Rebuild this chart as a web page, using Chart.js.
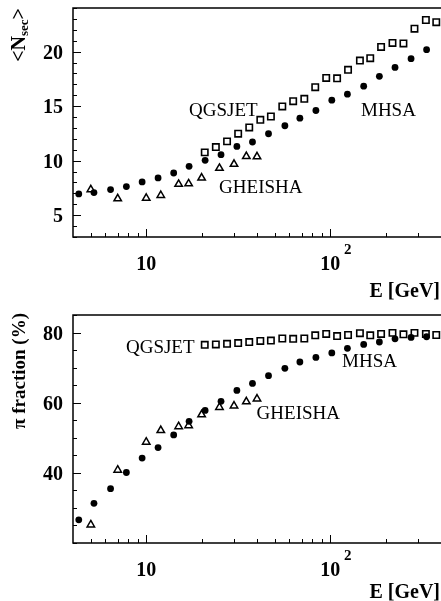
<!DOCTYPE html>
<html>
<head>
<meta charset="utf-8">
<script src="https://cdn.jsdelivr.net/npm/chart.js@4.4.1/dist/chart.umd.min.js"></script>
<style>
  html, body { margin: 0; padding: 0; background: #fff; overflow: hidden; }
  canvas { display: block; }
</style>
</head>
<body>
<canvas id="nsecChart" width="441" height="300"></canvas>
<canvas id="pionChart" width="441" height="301"></canvas>
<script>
// ========= Data =========
// MHSA (filled circles)
const mhsaE    = [4.3, 5.2, 6.4, 7.8, 9.5, 11.6, 14.1, 17.1, 20.9, 25.5, 31.1, 37.8, 46.2, 56.7, 68.4, 83.6, 102, 124, 152, 185, 225, 275, 334];
const mhsaNsec = [6.95, 7.07, 7.35, 7.62, 8.05, 8.42, 8.87, 9.48, 10.03, 10.55, 11.31, 11.71, 12.47, 13.2, 13.9, 14.6, 15.55, 16.1, 16.83, 17.73, 18.55, 19.35, 20.18];
const mhsaPion = [26.6, 31.3, 35.5, 40.1, 44.2, 47.2, 50.8, 54.7, 57.8, 60.4, 63.5, 65.5, 67.7, 69.8, 71.6, 72.9, 74.2, 75.5, 76.6, 77.3, 78.2, 78.6, 78.8];

// QGSJET (open squares)
const qgsE    = [20.8, 23.9, 27.5, 31.6, 36.3, 41.7, 47.6, 54.9, 62.9, 72.3, 82.9, 95.1, 109, 125, 145, 165, 189, 218, 250, 287, 331, 377];
const qgsNsec = [10.76, 11.25, 11.77, 12.47, 13.05, 13.75, 14.05, 14.97, 15.45, 15.67, 16.74, 17.59, 17.55, 18.33, 19.18, 19.4, 20.43, 20.8, 20.75, 22.1, 22.9, 22.7];
const qgsPion = [76.5, 76.6, 76.8, 77.0, 77.3, 77.6, 77.7, 78.3, 78.2, 78.3, 79.2, 79.6, 79.0, 79.3, 79.8, 79.2, 79.6, 79.9, 79.5, 79.9, 79.6, 79.3];

// GHEISHA (open triangles)
const gheE    = [5, 7, 10, 12, 15, 17, 20, 25, 30, 35, 40];
const gheNsec = [7.35, 6.52, 6.57, 6.82, 7.84, 7.89, 8.42, 9.31, 9.68, 10.39, 10.37];
const ghePion = [25.2, 40.8, 48.8, 52.1, 53.2, 53.5, 56.6, 58.7, 59.1, 60.3, 61.1];

// axis ticks
const xTicks = [5, 6, 7, 8, 9, 10, 20, 30, 40, 50, 60, 70, 80, 90, 100, 200, 300];
const xMajor = [10, 100];
const nsecTickLabels = [5, 10, 15, 20];
const pionTickLabels = [40, 60, 80];

const SERIF = "'Liberation Serif', 'Times New Roman', serif";

function points(xs, ys) {
  return xs.map((x, i) => ({ x, y: ys[i] }));
}

function seriesSets(kind) {
  const top = kind === "nsec";
  return [
    {
      label: "MHSA",
      data: points(mhsaE, top ? mhsaNsec : mhsaPion),
      pointStyle: "circle",
      pointRadius: 3.4,
      backgroundColor: "#000",
      borderColor: "#000",
      borderWidth: 0
    },
    {
      label: "QGSJET",
      data: points(qgsE, top ? qgsNsec : qgsPion),
      pointStyle: "rect",
      pointRadius: 4.5,
      backgroundColor: "rgba(0,0,0,0)",
      borderColor: "#000",
      borderWidth: 1.6
    },
    {
      label: "GHEISHA",
      data: points(gheE, top ? gheNsec : ghePion),
      pointStyle: "triangle",
      pointRadius: 4.3,
      backgroundColor: "rgba(0,0,0,0)",
      borderColor: "#000",
      borderWidth: 1.5
    }
  ];
}

/* ========= Frame, inward ticks, axis texts ========= */
const framePlugin = {
  id: "frame",
  afterDraw(chart, args, opts) {
    const { ctx, chartArea: a, scales } = chart;
    const xs = scales.x, ys = scales.y;
    ctx.save();
    ctx.strokeStyle = "#000";
    ctx.fillStyle = "#000";

    // box (right edge runs off the canvas)
    ctx.lineWidth = 1.5;
    ctx.beginPath();
    ctx.moveTo(a.right + 2, a.top);
    ctx.lineTo(a.left, a.top);
    ctx.lineTo(a.left, a.bottom);
    ctx.lineTo(a.right + 2, a.bottom);
    ctx.stroke();

    // y ticks, pointing into the plot, with labels on the majors
    ctx.lineWidth = 1;
    ctx.textBaseline = "middle";
    ctx.textAlign = "right";
    ctx.font = `bold 20px ${SERIF}`;
    ys.ticks.forEach(t => {
      const py = Math.round(ys.getPixelForValue(t.value)) + 0.5;
      const major = opts.yMajor.includes(t.value);
      ctx.beginPath();
      ctx.moveTo(a.left, py);
      ctx.lineTo(a.left + (major ? 8 : 4), py);
      ctx.stroke();
      if (major) ctx.fillText(String(t.value), a.left - 10, py + 1);
    });

    // x ticks
    xTicks.forEach(v => {
      const px = Math.round(xs.getPixelForValue(v)) + 0.5;
      const len = xMajor.includes(v) ? 8 : 4;
      ctx.beginPath();
      ctx.moveTo(px, a.bottom);
      ctx.lineTo(px, a.bottom - len);
      ctx.stroke();
    });

    // x tick labels: 10 and 10^2
    ctx.textAlign = "center";
    xMajor.forEach((v, i) => {
      const px = xs.getPixelForValue(v);
      ctx.font = `bold 20px ${SERIF}`;
      ctx.fillText("10", px, a.bottom + 28);
      if (i > 0) {
        ctx.font = `bold 15px ${SERIF}`;
        ctx.fillText(String(Math.log10(v)), px + 17.5, a.bottom + 13);
      }
    });

    // x title
    ctx.font = `bold 20px ${SERIF}`;
    ctx.textAlign = "right";
    ctx.fillText("E [GeV]", chart.width - 1, chart.height - 8);

    // y title, rotated and aligned to the top of the frame
    ctx.save();
    ctx.translate(20, opts.titleTop);
    ctx.rotate(-Math.PI / 2);
    ctx.textAlign = "left";
    let w = 0;
    opts.yTitle.forEach(s => { ctx.font = s.font; w += ctx.measureText(s.text).width; });
    let cx = -w;
    opts.yTitle.forEach(s => {
      ctx.font = s.font;
      ctx.fillText(s.text, cx, s.dy || 0);
      cx += ctx.measureText(s.text).width;
    });
    ctx.restore();

    // model labels, placed in data coordinates
    ctx.font = `19px ${SERIF}`;
    ctx.textAlign = "left";
    opts.notes.forEach(n => {
      ctx.fillText(n.text, xs.getPixelForValue(n.x), ys.getPixelForValue(n.y));
    });

    ctx.restore();
  }
};

function makeChart(id, kind, yMin, yMax, yStep, padTop, xHeight, frameOpts) {
  return new Chart(document.getElementById(id), {
    type: "scatter",
    data: { datasets: seriesSets(kind) },
    options: {
      responsive: false,
      animation: false,
      devicePixelRatio: 1,
      layout: { autoPadding: false, padding: { top: padTop, left: 0, right: 0, bottom: 0 } },
      plugins: {
        legend: { display: false },
        tooltip: { enabled: false },
        frame: frameOpts
      },
      scales: {
        x: {
          type: "logarithmic",
          min: 4,
          max: 400,
          grid: { display: false, drawTicks: false, tickLength: 0 },
          border: { display: false },
          ticks: { display: false },
          afterFit: (s) => { s.height = xHeight; }
        },
        y: {
          min: yMin,
          max: yMax,
          grid: { display: false, drawTicks: false, tickLength: 0 },
          border: { display: false },
          ticks: { display: false, stepSize: yStep, autoSkip: false },
          afterFit: (s) => { s.width = 73; }
        }
      }
    },
    plugins: [framePlugin]
  });
}

makeChart("nsecChart", "nsec", 3, 24, 1, 8, 63, {
  yMajor: nsecTickLabels,
  titleTop: 8,
  yTitle: [
    { text: "<N", font: `bold 20px ${SERIF}` },
    { text: "sec", font: `bold 13px ${SERIF}`, dy: 5 },
    { text: ">", font: `bold 20px ${SERIF}` }
  ],
  notes: [
    { text: "QGSJET", x: 17.1, y: 14.57 },
    { text: "MHSA", x: 147, y: 14.57 },
    { text: "GHEISHA", x: 24.9, y: 7.53 }
  ]
});

makeChart("pionChart", "pion", 20, 85, 5, 15, 58, {
  yMajor: pionTickLabels,
  titleTop: 13,
  yTitle: [
    { text: "\u03c0 fraction (%)", font: `bold 19px ${SERIF}` }
  ],
  notes: [
    { text: "QGSJET", x: 7.76, y: 75.7 },
    { text: "MHSA", x: 115.9, y: 71.5 },
    { text: "GHEISHA", x: 39.8, y: 56.85 }
  ]
});
</script>
</body>
</html>
